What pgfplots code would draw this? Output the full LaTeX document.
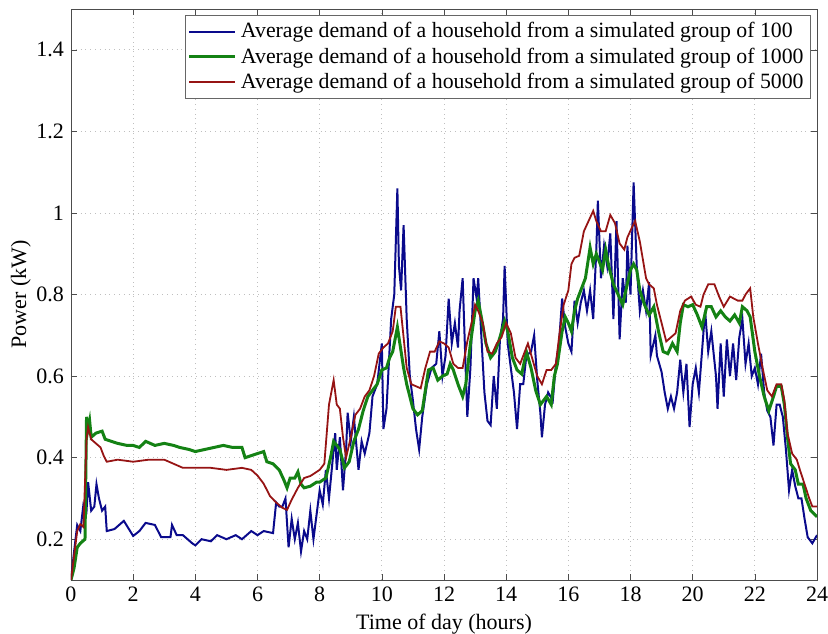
\documentclass[border=0pt]{standalone}
\usepackage{pgfplots}
\pgfplotsset{compat=1.18}
\usepackage{fontspec}
\setmainfont{Liberation Serif}

\definecolor{c100}{RGB}{10,10,140}
\definecolor{c1000}{RGB}{20,130,20}
\definecolor{c5000}{RGB}{150,20,20}

\begin{document}
\begin{tikzpicture}
\begin{axis}[
  name=ax,
  scale only axis,
  width=373pt, height=285.5pt,
  xmin=0, xmax=24, ymin=0.1, ymax=1.5,
  xtick={0,2,...,24},
  ytick={0.2,0.4,0.6,0.8,1,1.2,1.4},
  tick align=inside,
  tick pos=both,
  major tick length=3pt,
  grid=major,
  grid style={dotted, gray!50},
  axis line style={black!70},
  tick style={black!70},
  font=\fontsize{11}{12}\selectfont,
  /pgf/number format/assume math mode=true,
  xlabel={Time of day (hours)},
  ylabel={Power (kW)},
  xlabel style={yshift=1pt},
  ylabel style={yshift=-4pt},
  legend cell align=left,
  legend style={at={(1,1)}, anchor=north east, xshift=-3pt, yshift=-3pt,
    draw=black!60, row sep=-0.5pt, inner sep=1.5pt,
    font=\fontsize{10.9}{12.5}\selectfont},
  legend image code/.code={\draw[#1] (0pt,0pt) -- (23pt,0pt);},
]
% group of 100 households
\addplot[c100, line width=1pt] coordinates {
(0,0.1) (0.1,0.17) (0.2,0.235) (0.3,0.22) (0.4,0.285) (0.5,0.27) (0.55,0.34)
(0.65,0.27) (0.75,0.28) (0.82,0.335) (0.9,0.3) (1.0,0.27) (1.1,0.28) (1.15,0.22)
(1.4,0.225) (1.7,0.245) (2.0,0.208) (2.2,0.22) (2.4,0.24) (2.7,0.235) (2.9,0.205)
(3.2,0.205) (3.25,0.235) (3.4,0.21) (3.6,0.21) (3.9,0.19) (4.0,0.185) (4.2,0.2)
(4.5,0.195) (4.7,0.21) (5.0,0.2) (5.3,0.21) (5.5,0.2) (5.8,0.22) (6.0,0.21)
(6.2,0.22) (6.5,0.215) (6.6,0.29) (6.7,0.28) (6.8,0.28) (6.9,0.3) (7.0,0.18)
(7.1,0.25) (7.2,0.2) (7.3,0.24) (7.4,0.17) (7.5,0.22) (7.6,0.2) (7.7,0.27)
(7.8,0.2) (7.9,0.26) (8.0,0.32) (8.1,0.285) (8.2,0.37) (8.3,0.3) (8.4,0.38)
(8.5,0.46) (8.55,0.37) (8.65,0.45) (8.75,0.32) (8.85,0.42) (8.9,0.51) (9.0,0.44)
(9.1,0.5) (9.25,0.37) (9.35,0.44) (9.45,0.41) (9.6,0.46) (9.7,0.55) (9.85,0.58)
(10.0,0.68) (10.05,0.47) (10.15,0.52) (10.3,0.74) (10.4,0.8) (10.5,1.06)
(10.55,0.87) (10.62,0.81) (10.7,0.97) (10.8,0.74) (10.9,0.6) (11.0,0.54)
(11.1,0.47) (11.2,0.42) (11.3,0.5) (11.45,0.58) (11.6,0.62) (11.75,0.63)
(11.85,0.71) (11.95,0.6) (12.05,0.65) (12.15,0.79) (12.25,0.68) (12.35,0.73)
(12.45,0.67) (12.5,0.76) (12.6,0.84) (12.7,0.61) (12.75,0.5) (12.85,0.62)
(12.95,0.84) (13.05,0.79) (13.1,0.84) (13.2,0.7) (13.3,0.56) (13.4,0.49)
(13.5,0.48) (13.6,0.6) (13.7,0.52) (13.8,0.69) (13.9,0.74) (13.95,0.87)
(14.05,0.68) (14.15,0.62) (14.25,0.56) (14.35,0.47) (14.45,0.58) (14.55,0.58)
(14.65,0.65) (14.8,0.66) (14.9,0.7) (15.0,0.59) (15.1,0.51) (15.15,0.45)
(15.25,0.53) (15.35,0.56) (15.5,0.54) (15.6,0.63) (15.7,0.68) (15.8,0.79)
(15.9,0.72) (16.0,0.68) (16.1,0.66) (16.2,0.785) (16.3,0.73) (16.4,0.78)
(16.5,0.81) (16.6,0.76) (16.7,0.81) (16.8,0.74) (16.9,0.91) (16.95,1.03)
(17.05,0.84) (17.15,0.92) (17.25,0.87) (17.35,0.95) (17.45,0.74) (17.55,0.98)
(17.65,0.69) (17.75,0.84) (17.85,0.78) (17.9,0.92) (18.0,0.8) (18.1,1.075)
(18.2,0.87) (18.3,0.76) (18.4,0.81) (18.5,0.76) (18.6,0.83) (18.65,0.65)
(18.8,0.7) (18.85,0.65) (19.0,0.61) (19.1,0.56) (19.2,0.52) (19.3,0.55)
(19.4,0.52) (19.5,0.56) (19.6,0.64) (19.7,0.56) (19.8,0.63) (19.9,0.475)
(20.0,0.58) (20.1,0.62) (20.2,0.56) (20.3,0.66) (20.4,0.76) (20.5,0.66)
(20.6,0.71) (20.75,0.6) (20.8,0.52) (20.9,0.68) (21.0,0.55) (21.1,0.69)
(21.2,0.6) (21.3,0.68) (21.4,0.59) (21.5,0.695) (21.6,0.74) (21.7,0.63)
(21.8,0.68) (21.9,0.6) (22.0,0.62) (22.1,0.58) (22.2,0.655) (22.3,0.56)
(22.4,0.515) (22.5,0.5) (22.6,0.43) (22.7,0.53) (22.8,0.53) (22.9,0.5)
(23.0,0.42) (23.1,0.32) (23.2,0.37) (23.3,0.33) (23.4,0.3) (23.5,0.3)
(23.6,0.25) (23.7,0.205) (23.85,0.19) (24.0,0.21)
};
\addlegendentry{Average demand of a household from a simulated group of 100}
% group of 1000 households
\addplot[c1000, line width=1.5pt] coordinates {
(0,0.1) (0.1,0.13) (0.2,0.18) (0.3,0.19) (0.45,0.2) (0.5,0.5) (0.55,0.47)
(0.6,0.49) (0.65,0.45) (0.8,0.46) (1.0,0.465) (1.1,0.445) (1.3,0.44) (1.5,0.435)
(1.8,0.43) (2.0,0.43) (2.2,0.425) (2.4,0.44) (2.7,0.43) (3.0,0.435) (3.3,0.43)
(3.5,0.425) (3.8,0.42) (4.0,0.415) (4.3,0.42) (4.6,0.425) (4.9,0.43) (5.2,0.425)
(5.5,0.425) (5.6,0.4) (5.8,0.405) (6.0,0.41) (6.2,0.415) (6.3,0.39) (6.5,0.385)
(6.7,0.37) (6.85,0.345) (6.95,0.326) (7.05,0.35) (7.2,0.35) (7.3,0.365)
(7.4,0.335) (7.5,0.326) (7.7,0.33) (7.9,0.34) (8.0,0.34) (8.2,0.35) (8.35,0.4)
(8.45,0.44) (8.55,0.43) (8.65,0.42) (8.8,0.375) (8.95,0.39) (9.1,0.44)
(9.25,0.47) (9.4,0.515) (9.55,0.55) (9.7,0.565) (9.85,0.58) (10.0,0.615)
(10.15,0.62) (10.25,0.645) (10.35,0.66) (10.5,0.72) (10.6,0.67) (10.7,0.62)
(10.8,0.58) (10.9,0.55) (11.0,0.52) (11.15,0.505) (11.3,0.515) (11.4,0.565)
(11.5,0.615) (11.65,0.62) (11.8,0.59) (11.95,0.6) (12.1,0.605) (12.2,0.63)
(12.3,0.615) (12.45,0.58) (12.6,0.55) (12.7,0.58) (12.85,0.68) (13.0,0.76)
(13.1,0.785) (13.2,0.745) (13.35,0.68) (13.5,0.645) (13.65,0.66) (13.8,0.695)
(13.95,0.735) (14.05,0.71) (14.2,0.645) (14.35,0.615) (14.5,0.605) (14.65,0.66)
(14.8,0.62) (14.95,0.565) (15.1,0.53) (15.3,0.55) (15.45,0.53) (15.55,0.6)
(15.65,0.63) (15.8,0.71) (15.9,0.745) (16.0,0.73) (16.1,0.71) (16.2,0.76)
(16.3,0.79) (16.4,0.81) (16.55,0.84) (16.7,0.915) (16.8,0.875) (16.9,0.9)
(17.0,0.88) (17.1,0.86) (17.2,0.91) (17.3,0.87) (17.45,0.825) (17.6,0.8)
(17.75,0.775) (17.85,0.81) (18.0,0.86) (18.1,0.875) (18.2,0.86) (18.3,0.81)
(18.45,0.775) (18.6,0.75) (18.75,0.77) (18.9,0.71) (19.05,0.66) (19.2,0.655)
(19.35,0.68) (19.5,0.66) (19.6,0.73) (19.7,0.775) (19.85,0.77) (20.0,0.775)
(20.15,0.75) (20.3,0.72) (20.45,0.77) (20.6,0.77) (20.75,0.745) (20.9,0.76)
(21.05,0.745) (21.2,0.735) (21.35,0.75) (21.5,0.73) (21.6,0.77) (21.75,0.76)
(21.85,0.745) (22.0,0.66) (22.15,0.6) (22.3,0.55) (22.45,0.515) (22.6,0.55)
(22.7,0.575) (22.85,0.575) (22.95,0.53) (23.05,0.45) (23.15,0.385) (23.3,0.37)
(23.4,0.335) (23.55,0.335) (23.65,0.3) (23.8,0.27) (24.0,0.255)
};
\addlegendentry{Average demand of a household from a simulated group of 1000}
% group of 5000 households
\addplot[c5000, line width=0.9pt] coordinates {
(0,0.1) (0.1,0.16) (0.2,0.22) (0.3,0.237) (0.4,0.23) (0.5,0.445) (0.55,0.475)
(0.65,0.445) (0.8,0.435) (0.95,0.425) (1.05,0.405) (1.15,0.39) (1.5,0.395)
(2.0,0.39) (2.5,0.395) (3.0,0.395) (3.3,0.385) (3.6,0.375) (4.0,0.375)
(4.5,0.375) (5.0,0.37) (5.5,0.375) (5.8,0.37) (6.0,0.356) (6.2,0.336)
(6.4,0.306) (6.6,0.29) (6.8,0.277) (6.95,0.272) (7.1,0.297) (7.3,0.326)
(7.5,0.35) (7.7,0.355) (7.9,0.365) (8.0,0.37) (8.15,0.385) (8.3,0.53)
(8.45,0.59) (8.55,0.53) (8.65,0.52) (8.75,0.45) (8.85,0.4) (9.0,0.45)
(9.15,0.505) (9.3,0.52) (9.45,0.55) (9.6,0.565) (9.75,0.6) (9.9,0.655)
(10.05,0.67) (10.2,0.68) (10.35,0.71) (10.45,0.77) (10.6,0.77) (10.7,0.695)
(10.8,0.62) (10.95,0.58) (11.1,0.575) (11.25,0.57) (11.4,0.62) (11.55,0.66)
(11.7,0.66) (11.85,0.685) (12.0,0.68) (12.15,0.67) (12.3,0.63) (12.45,0.62)
(12.6,0.62) (12.75,0.685) (12.9,0.735) (13.0,0.775) (13.1,0.76) (13.25,0.73)
(13.4,0.66) (13.55,0.655) (13.7,0.68) (13.85,0.695) (14.0,0.73) (14.15,0.705)
(14.3,0.645) (14.45,0.63) (14.6,0.66) (14.7,0.68) (14.85,0.64) (15.0,0.6)
(15.15,0.58) (15.3,0.615) (15.45,0.615) (15.6,0.63) (15.7,0.695) (15.85,0.775)
(16.0,0.81) (16.1,0.875) (16.2,0.89) (16.35,0.895) (16.5,0.955) (16.65,0.98)
(16.8,1.005) (16.9,0.98) (17.05,0.955) (17.2,0.955) (17.35,0.995) (17.5,0.975)
(17.65,0.925) (17.8,0.91) (17.9,0.94) (18.05,0.965) (18.15,0.98) (18.3,0.93)
(18.4,0.885) (18.5,0.84) (18.6,0.825) (18.75,0.815) (18.85,0.775) (19.0,0.73)
(19.15,0.685) (19.3,0.695) (19.45,0.705) (19.6,0.76) (19.75,0.785)
(19.95,0.795) (20.1,0.775) (20.25,0.77) (20.35,0.8) (20.5,0.825) (20.7,0.825)
(20.85,0.795) (21.0,0.77) (21.2,0.795) (21.45,0.785) (21.6,0.785) (21.7,0.8)
(21.85,0.815) (21.95,0.745) (22.1,0.68) (22.25,0.62) (22.4,0.565) (22.55,0.55)
(22.7,0.58) (22.85,0.58) (22.95,0.54) (23.05,0.46) (23.2,0.41) (23.35,0.395)
(23.45,0.37) (23.6,0.335) (23.75,0.3) (23.85,0.28) (24.0,0.28)
};
\addlegendentry{Average demand of a household from a simulated group of 5000}
\end{axis}
\pgfresetboundingbox
\path ([shift={(-35.5pt,-26.5pt)}]ax.south west) rectangle ([shift={(5.5pt,4.5pt)}]ax.north east);
\end{tikzpicture}
\end{document}
